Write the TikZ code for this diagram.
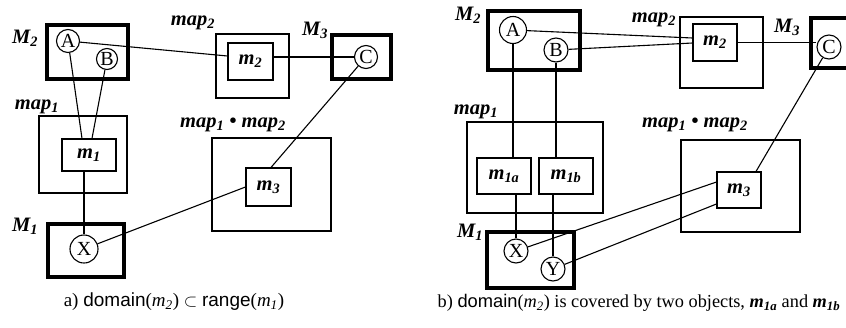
\documentclass[tikz,border=0pt]{standalone}
\usepackage{fontspec}
\setmainfont{Liberation Serif}
\newfontfamily\helv{Liberation Sans}
\begin{document}
\begin{tikzpicture}[x=1pt,y=-1pt,
  thickbox/.style={draw,line width=3.8pt,inner sep=0pt},
  thinbox/.style={draw,line width=1.1pt,inner sep=0pt,font=\fontsize{20.5}{20}\selectfont\bfseries\itshape},
  obj/.style={circle,draw,fill=white,line width=1.1pt,inner sep=0pt,minimum size=23pt,font=\fontsize{20}{20}\selectfont},
  lab/.style={inner sep=0pt,font=\fontsize{20.5}{20}\selectfont\bfseries\itshape},
  blab/.style={inner sep=0pt,font=\fontsize{20.5}{20}\selectfont\bfseries\itshape},
  conn/.style={line width=1.1pt},
  captext/.style={inner sep=0pt,font=\fontsize{19}{19}\selectfont}]
\useasboundingbox (0,0) rectangle (846,327);
\clip (0,0) rectangle (846,327);
% ---------- left diagram ----------
\node[thickbox,minimum width=81pt,minimum height=54pt] (LM2) at (87.5,52) {};
\node[blab] (LM2l) at (25,38) {M\textsubscript{2}};
\node[obj] (LA) at (68,41) {A};
\node[obj,minimum size=21pt] (LB) at (107,59) {B};
\node[thinbox,minimum width=73pt,minimum height=64pt] (Lmap2) at (252.5,66) {};
\node[thinbox,minimum width=45pt,minimum height=37pt] (Lm2) at (250.5,61.5) {m\textsubscript{2}};
\node[lab] (Lmap2l) at (193,23) {map\textsubscript{2}};
\node[thickbox,minimum width=59pt,minimum height=44pt] (LM3) at (361.5,57) {};
\node[blab] (LM3l) at (315,30) {M\textsubscript{3}};
\node[obj] (LC) at (366,57) {C};
\node[lab] (Lmap1l) at (37,107) {map\textsubscript{1}};
\node[thinbox,minimum width=88pt,minimum height=77pt] (Lmap1) at (83,154.5) {};
\node[thinbox,minimum width=54pt,minimum height=32pt] (Lm1) at (89,155) {m\textsubscript{1}};
\node[lab] (Lmml) at (233,125) {map\textsubscript{1} \textbullet\ map\textsubscript{2}};
\node[thinbox,minimum width=119pt,minimum height=93pt] (Lmm) at (271.5,184.5) {};
\node[thinbox,minimum width=45pt,minimum height=38pt] (Lm3) at (268.5,187) {m\textsubscript{3}};
\node[thickbox,minimum width=76pt,minimum height=53pt] (LM1) at (86,250.5) {};
\node[blab] (LM1l) at (25,226) {M\textsubscript{1}};
\node[obj,minimum size=28pt] (LX) at (84,249) {X};
\node[captext] (capa) at (174,302) {a) {\helv domain}(\textit{m\textsubscript{2}}) $\subset$ {\helv range}(\textit{m\textsubscript{1}})};
\draw[conn] (LA) -- ([xshift=-7pt]Lm1.north);
\draw[conn] (LB) -- ([xshift=3pt]Lm1.north);
\draw[conn] (LX.north |- Lm1.south) -- (LX.north);
\draw[conn] (LA) -- ([yshift=5.5pt]Lm2.west);
\draw[conn] (Lm2.east |- LC) -- (LC);
\draw[conn] (LC) -- ([xshift=2.5pt]Lm3.north);
\draw[conn] (LX) -- (Lm3.west);
% ---------- right diagram ----------
\node[thickbox,minimum width=92pt,minimum height=59pt] (RM2) at (534,40.5) {};
\node[blab] (RM2l) at (468,15) {M\textsubscript{2}};
\node[obj,minimum size=27pt] (RA) at (513,30) {A};
\node[obj,minimum size=24pt] (RB) at (556,50) {B};
\node[thinbox,minimum width=83pt,minimum height=71pt] (Rmap2) at (721.5,52.5) {};
\node[thinbox,minimum width=44pt,minimum height=37pt] (Rm2) at (715,42.5) {m\textsubscript{2}};
\node[lab] (Rmap2l) at (654,20) {map\textsubscript{2}};
\node[thickbox,minimum width=59pt,minimum height=50pt] (RM3) at (840.5,43) {};
\node[blab] (RM3l) at (787,27) {M\textsubscript{3}};
\node[obj,minimum size=24pt] (RC) at (829,47) {C};
\node[lab] (Rmap1l) at (476,112) {map\textsubscript{1}};
\node[thinbox,minimum width=136pt,minimum height=91pt] (Rmap1) at (535,167.5) {};
\node[thinbox,minimum width=54pt,minimum height=36pt] (Rm1a) at (504,176) {m\textsubscript{1a}};
\node[thinbox,minimum width=54pt,minimum height=36pt] (Rm1b) at (566,176) {m\textsubscript{1b}};
\node[lab] (Rmml) at (695,125) {map\textsubscript{1} \textbullet\ map\textsubscript{2}};
\node[thinbox,minimum width=119pt,minimum height=92pt] (Rmm) at (740.5,186) {};
\node[thinbox,minimum width=44pt,minimum height=36pt] (Rm3) at (739,190) {m\textsubscript{3}};
\node[thickbox,minimum width=87pt,minimum height=56pt] (RM1) at (530.5,260) {};
\node[blab] (RM1l) at (470,232) {M\textsubscript{1}};
\node[obj,minimum size=24pt] (RX) at (516,251) {X};
\node[obj,minimum size=24pt] (RY) at (553,269) {Y};
\node[captext,font=\fontsize{18.3}{18}\selectfont] (capb) at (639,303) {b) {\helv domain}(\textit{m\textsubscript{2}}) is covered by two objects, \textbf{\textit{m\textsubscript{1a}}} and \textbf{\textit{m\textsubscript{1b}}}};
\draw[conn] (RA) -- (RA.south |- Rm1a.north);
\draw[conn] (RB) -- (RB.south |- Rm1b.north);
\draw[conn] (RX.north |- Rm1a.south) -- (RX.north);
\draw[conn] (RY.north |- Rm1b.south) -- (RY.north);
\draw[conn] (RA) -- ([yshift=4.5pt]Rm2.west);
\draw[conn] (RB) -- ([yshift=-0.5pt]Rm2.west);
\draw[conn] (Rm2.east) -- (Rm2.east -| RC.west);
\draw[conn] (RC) -- ([xshift=17pt]Rm3.north);
\draw[conn] (RX) -- ([yshift=8pt]Rm3.west);
\draw[conn] (RY) -- ([yshift=-14pt]Rm3.west);
\end{tikzpicture}
\end{document}
